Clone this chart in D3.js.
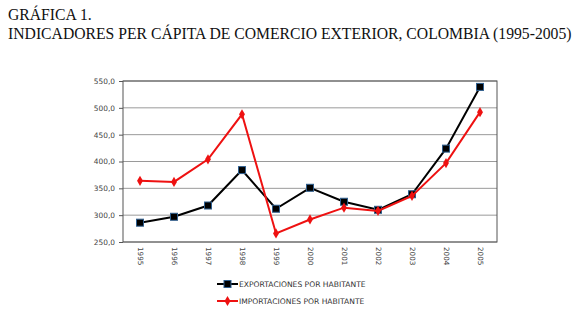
<!DOCTYPE html>
<html>
<head>
<meta charset="utf-8">
<script src="https://cdn.jsdelivr.net/npm/d3@7"></script>
<style>
body { margin: 0; background: #fff; }
</style>
</head>
<body>
<div id="chart"></div>
<script>
// data
var years = ["1995","1996","1997","1998","1999","2000","2001","2002","2003","2004","2005"];
var exportaciones = [286, 297, 318, 384, 312, 351, 325, 310, 339, 424, 539];
var importaciones = [364, 362, 404, 488, 266, 292, 314, 308, 336, 397, 492];
var yTicks = [250, 300, 350, 400, 450, 500, 550];

var W = 575, H = 314;
var margin = {top: 81, right: 78, bottom: 72, left: 123};
var width = W - margin.left - margin.right;
var height = H - margin.top - margin.bottom;

var root = d3.select("#chart").append("svg")
  .attr("width", W).attr("height", H);

// titles
root.append("text").attr("x", 8).attr("y", 20)
  .style("font-family", "'Liberation Serif', 'Times New Roman', serif")
  .style("font-size", "15.7px").style("fill", "#111")
  .text("GRÁFICA 1.");
root.append("text").attr("x", 8).attr("y", 39)
  .style("font-family", "'Liberation Serif', 'Times New Roman', serif")
  .style("font-size", "15.7px").style("fill", "#111")
  .text("INDICADORES PER CÁPITA DE COMERCIO EXTERIOR, COLOMBIA (1995-2005)");

var svg = root.append("g")
  .attr("transform", "translate(" + margin.left + "," + margin.top + ")");

var x = d3.scalePoint().domain(years).range([0, width]).padding(0.5);
var y = d3.scaleLinear().domain([250, 550]).range([height, 0]);

// gridlines
svg.append("g")
  .selectAll("line").data(yTicks).enter().append("line")
  .attr("x1", 0).attr("x2", width)
  .attr("y1", function(d){ return y(d); }).attr("y2", function(d){ return y(d); })
  .style("stroke", "#9a9a9a").style("stroke-width", 1);

// frame
svg.append("rect").attr("x", 0).attr("y", 0)
  .attr("width", width).attr("height", height)
  .style("fill", "none").style("stroke", "#555").style("stroke-width", 1);

// y axis labels
var yAxis = svg.append("g")
  .call(d3.axisLeft(y).tickValues(yTicks).tickSize(4)
    .tickFormat(function(d){ return d3.format(".1f")(d).replace(".", ","); }));
yAxis.select(".domain").remove();
yAxis.selectAll("line").style("stroke", "#555");
yAxis.selectAll("text")
  .style("font-family", "'DejaVu Sans', sans-serif").style("font-size", "7.4px")
  .style("fill", "#444").attr("x", -8);

// x axis labels rotated
var xAxis = svg.append("g")
  .attr("transform", "translate(0," + height + ")")
  .call(d3.axisBottom(x).tickSize(0));
xAxis.select(".domain").remove();
xAxis.selectAll("text")
  .style("font-family", "'DejaVu Sans', sans-serif").style("font-size", "7.2px")
  .style("fill", "#444")
  .attr("transform", "rotate(90)")
  .attr("x", 5).attr("y", 0).attr("dy", "0.35em")
  .style("text-anchor", "start");

var line = d3.line()
  .x(function(d, i){ return x(years[i]); })
  .y(function(d){ return y(d); });

// exportaciones
svg.append("path").datum(exportaciones)
  .attr("d", line)
  .style("fill", "none").style("stroke", "#000").style("stroke-width", 2);
svg.selectAll(".sq").data(exportaciones).enter().append("rect")
  .attr("class", "sq")
  .attr("x", function(d, i){ return x(years[i]) - 3.5; })
  .attr("y", function(d){ return y(d) - 3.5; })
  .attr("width", 7).attr("height", 7)
  .style("fill", "#000").style("stroke", "#2f5f8f").style("stroke-width", 1);

// importaciones
var diamond = d3.symbol().type(d3.symbolDiamond).size(30);
svg.append("path").datum(importaciones)
  .attr("d", line)
  .style("fill", "none").style("stroke", "#ee1111").style("stroke-width", 2);
svg.selectAll(".dm").data(importaciones).enter().append("path")
  .attr("class", "dm")
  .attr("d", diamond)
  .attr("transform", function(d, i){ return "translate(" + x(years[i]) + "," + y(d) + ")"; })
  .style("fill", "#ee1111");

// legend
var legend = root.append("g").attr("transform", "translate(217,284)");
var items = [
  {label: "EXPORTACIONES POR HABITANTE", color: "#000", square: true},
  {label: "IMPORTACIONES POR HABITANTE", color: "#ee1111", square: false}
];
items.forEach(function(it, i){
  var g = legend.append("g").attr("transform", "translate(0," + (i * 17) + ")");
  g.append("line").attr("x1", 0).attr("x2", 21).attr("y1", 0).attr("y2", 0)
    .style("stroke", it.color).style("stroke-width", 2);
  if (it.square) {
    g.append("rect").attr("x", 7).attr("y", -3.5).attr("width", 7).attr("height", 7)
      .style("fill", "#000").style("stroke", "#2f5f8f");
  } else {
    g.append("path").attr("d", diamond).attr("transform", "translate(10.5,0)")
      .style("fill", it.color);
  }
  g.append("text").attr("x", 22).attr("y", 0).attr("dy", "0.35em")
    .style("font-family", "'DejaVu Sans', sans-serif").style("font-size", "7.6px")
    .style("fill", "#333")
    .text(it.label);
});
</script>
</body>
</html>
